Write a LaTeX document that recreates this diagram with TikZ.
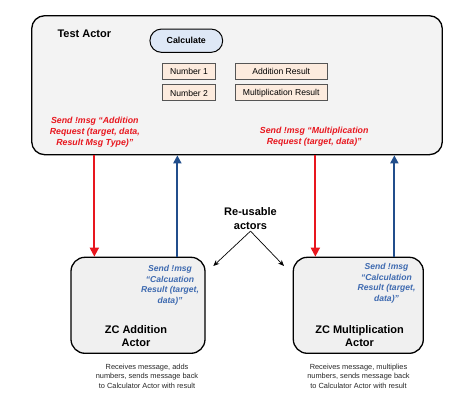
\documentclass[tikz,border=0pt]{standalone}
\usepackage{fontspec}
\setmainfont{Liberation Sans}
\usetikzlibrary{arrows.meta,positioning}
\definecolor{msgred}{RGB}{232,22,30}
\definecolor{arrowblue}{RGB}{33,78,140}
\definecolor{msgblue}{RGB}{62,106,176}
\definecolor{testfill}{RGB}{243,243,243}
\definecolor{actorfill}{RGB}{240,240,240}
\definecolor{calcfill}{RGB}{222,232,246}
\definecolor{varfill}{RGB}{252,235,222}
\definecolor{vardraw}{RGB}{85,85,85}
\begin{document}
\begin{tikzpicture}[x=1pt, y=-1pt,
    actorbox/.style={draw, line width=1.3pt, rounded corners=13pt, inner sep=0pt},
    varbox/.style={draw=vardraw, fill=varfill, line width=1pt, inner sep=0pt,
        minimum height=16pt, font=\fontsize{8.6}{10}\selectfont},
    redmsg/.style={text=msgred, align=center, font=\fontsize{8.8}{11}\selectfont\bfseries\itshape},
    bluemsg/.style={text=msgblue, align=center, font=\fontsize{8.6}{10.6}\selectfont\bfseries\itshape},
    actortitle/.style={align=center, font=\fontsize{11}{13.5}\selectfont\bfseries},
    caption/.style={align=center, text=black!85, font=\fontsize{7.4}{9.5}\selectfont},
    request/.style={draw=msgred, line width=1.8pt, -{Triangle[length=9pt,width=9pt]}},
    reply/.style={draw=arrowblue, line width=1.8pt, -{Triangle[length=8pt,width=8pt]}}]
    \useasboundingbox (0,0) rectangle (474,409);

    % Test Actor
    \node[actorbox, fill=testfill, minimum width=410.6pt, minimum height=139pt] (test) at (237,85.2) {};
    \node[anchor=west, font=\fontsize{11}{13}\selectfont\bfseries] (testlbl) at (54,33.3) {Test Actor};
    \node[draw, line width=1pt, fill=calcfill, rounded corners=11.5pt, minimum width=72.7pt,
        minimum height=23.3pt, inner sep=0pt, font=\fontsize{8.8}{10}\selectfont\bfseries]
        (calc) at (186.3,40.7) {Calculate};
    \node[varbox, minimum width=52.6pt] (num1) at (189,71.5) {Number 1};
    \node[varbox, minimum width=52.6pt] (num2) at (189,93) {Number 2};
    \node[varbox, minimum width=91.7pt] (addres) at (281.2,71.5) {Addition Result};
    \node[varbox, minimum width=91.7pt] (mulres) at (281.2,93) {Multiplication Result};
    \node[redmsg] (addreq) at (94.8,132.5) {Send !msg “Addition\\Request (target, data,\\Result Msg Type)”};
    \node[redmsg] (mulreq) at (314.2,136.8) {Send !msg “Multiplication\\Request (target, data)”};

    % Re-usable actors
    \node[actorbox, fill=actorfill, rounded corners=14pt, minimum width=134pt, minimum height=96pt] (addactor) at (138,305.3) {};
    \node[actorbox, fill=actorfill, rounded corners=14pt, minimum width=130pt, minimum height=96pt] (mulactor) at (358.3,305.3) {};
    \node[bluemsg] (addreply) at (170,285.2) {Send !msg\\“Calcuation\\Result (target,\\data)”};
    \node[bluemsg] (mulreply) at (386.5,283.4) {Send !msg\\“Calculation\\Result (target,\\data)”};
    \node[actortitle] (addlbl) at (136,336) {ZC Addition\\Actor};
    \node[actortitle] (mullbl) at (359.6,336) {ZC Multiplication\\Actor};
    \node[caption] (addnote) at (147,376.2) {Receives message, adds\\numbers, sends message back\\to Calculator Actor with result};
    \node[caption] (mulnote) at (358.5,376.2) {Receives message, multiplies\\numbers, sends message back\\to Calculator Actor with result};

    % Messages
    \draw[request] ([xshift=24pt]addactor.north west |- test.south) -- ([xshift=24pt]addactor.north west);
    \draw[reply] ([xshift=107pt]addactor.north west) -- ([xshift=107pt]addactor.north west |- test.south);
    \draw[request] ([xshift=22.7pt]mulactor.north west |- test.south) -- ([xshift=22.7pt]mulactor.north west);
    \draw[reply] ([xshift=101.7pt]mulactor.north west) -- ([xshift=101.7pt]mulactor.north west |- test.south);

    % Re-usable
    \node[actortitle] (reuse) at (250.5,218.8) {Re-usable\\actors};
    \coordinate (reuseL) at (213.3,266);
    \coordinate (reuseR) at (284,266);
    \draw[-{Stealth[length=6pt,width=5pt]}, line width=0.7pt] ([yshift=2pt]reuse.south) -- (reuseL);
    \draw[-{Stealth[length=6pt,width=5pt]}, line width=0.7pt] ([yshift=2pt]reuse.south) -- (reuseR);
\end{tikzpicture}
\end{document}
